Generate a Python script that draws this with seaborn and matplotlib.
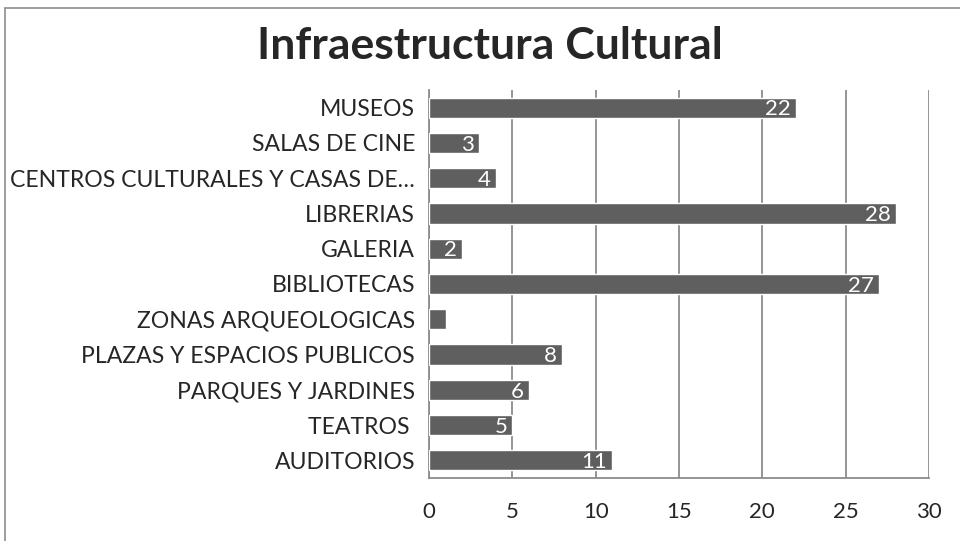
import seaborn as sns
import matplotlib.pyplot as plt
import pandas as pd
from matplotlib.patches import Rectangle

categorias = ['MUSEOS', 'SALAS DE CINE', 'CENTROS CULTURALES Y CASAS DE…', 'LIBRERIAS',
              'GALERIA', 'BIBLIOTECAS', 'ZONAS ARQUEOLOGICAS', 'PLAZAS Y ESPACIOS PUBLICOS',
              'PARQUES Y JARDINES', 'TEATROS ', 'AUDITORIOS']
valores = [22, 3, 4, 28, 2, 27, 1, 8, 6, 5, 11]

df = pd.DataFrame({'cat': categorias, 'val': valores})

sns.set_style('white')
plt.rcParams['font.family'] = ['Lato', 'DejaVu Sans']

fig = plt.figure(figsize=(9.6, 5.41), dpi=100)
ax = fig.add_axes([429 / 960, 1 - 478 / 541, 500 / 960, 388 / 541])

sns.barplot(data=df, y='cat', x='val', color='#5f5f5f', saturation=1,
            width=0.57, ax=ax, zorder=3)

# etiquetas de valor (blancas, dentro del extremo)
for i, v in enumerate(valores):
    if v < 2:
        continue
    ax.text(v - 0.3, i + 0.05, str(v), color='white', ha='right', va='center',
            fontsize=16, zorder=4)

ax.set_xlim(0, 30)
ax.set_xticks(range(0, 31, 5))
ax.set_ylim(len(categorias) - 0.5, -0.5)
ax.grid(axis='x', color='#8c8c8c', linewidth=1.3, zorder=0)
ax.set_xlabel('')
ax.set_ylabel('')
for s in ['top', 'right']:
    ax.spines[s].set_visible(False)
ax.spines['left'].set_color('#8c8c8c')
ax.spines['bottom'].set_color('#8c8c8c')
ax.spines['left'].set_linewidth(1.3)
ax.spines['bottom'].set_linewidth(1.3)
ax.tick_params(axis='y', labelsize=16.6, length=0, pad=10)
ax.tick_params(axis='x', labelsize=16, length=0, pad=17)

fig.text(490 / 960, 1 - 46 / 541, 'Infraestructura Cultural', ha='center', va='center',
         fontsize=32, fontweight='bold')

fig.patches.append(Rectangle((5 / 960, -0.2), 1.2, 1.2 - 8 / 541,
                             transform=fig.transFigure, fill=False,
                             edgecolor='#8c8c8c', linewidth=1.2))

fig.savefig('out.png', dpi=100)
